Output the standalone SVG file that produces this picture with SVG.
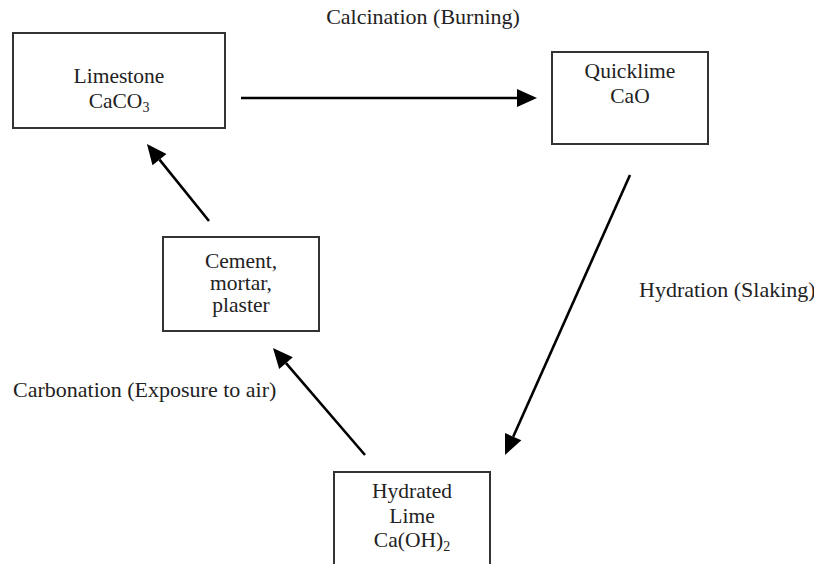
<svg xmlns="http://www.w3.org/2000/svg" width="814" height="564" viewBox="0 0 814 564">
<defs>
<style>
.box{fill:#fff;stroke:#333;stroke-width:2}
.t{font-family:"Liberation Serif","Times New Roman",serif;font-size:21.5px;fill:#222;text-anchor:middle}
.lbl{font-family:"Liberation Serif","Times New Roman",serif;font-size:22px;fill:#222}
.c{stroke:#000;stroke-width:2.6;fill:none;marker-end:url(#ah)}
.sub{font-size:14px}
</style>
<marker id="ah" markerUnits="userSpaceOnUse" markerWidth="22" markerHeight="20" refX="0" refY="0" viewBox="0 -10 22 20" orient="auto" overflow="visible">
<path d="M0,-9 L20,0 L0,9 Z" fill="#000"/>
</marker>
</defs>
<rect width="814" height="564" fill="#fff"/>
<g id="limestone">
<rect class="box" x="13" y="33" width="212" height="95"/>
<text class="t" x="119" y="83">Limestone</text>
<text class="t" x="119" y="108">CaCO<tspan class="sub" dy="4">3</tspan></text>
</g>
<g id="quicklime">
<rect class="box" x="552" y="52" width="156" height="92"/>
<text class="t" x="630" y="78">Quicklime</text>
<text class="t" x="630" y="103">CaO</text>
</g>
<g id="cement">
<rect class="box" x="163" y="237" width="156" height="94"/>
<text class="t" x="241" y="268">Cement,</text>
<text class="t" x="241" y="290">mortar,</text>
<text class="t" x="241" y="312">plaster</text>
</g>
<g id="hydrated">
<rect class="box" x="334" y="472" width="156" height="100"/>
<text class="t" x="412" y="498">Hydrated</text>
<text class="t" x="412" y="523">Lime</text>
<text class="t" x="412" y="547">Ca(OH)<tspan class="sub" dy="4">2</tspan></text>
</g>
<g id="connectors">
<line class="c" x1="241" y1="98" x2="517" y2="98"/>
<line class="c" x1="630" y1="175" x2="513.2" y2="436.7"/>
<line class="c" x1="365" y1="455" x2="286" y2="363.2"/>
<line class="c" x1="209" y1="221" x2="159.5" y2="159.6"/>
</g>
<g id="labels">
<text class="t" x="423" y="24" style="font-size:22px">Calcination (Burning)</text>
<text class="lbl" x="639" y="297">Hydration (Slaking)</text>
<text class="lbl" x="13" y="397">Carbonation (Exposure to air)</text>
</g>
</svg>
